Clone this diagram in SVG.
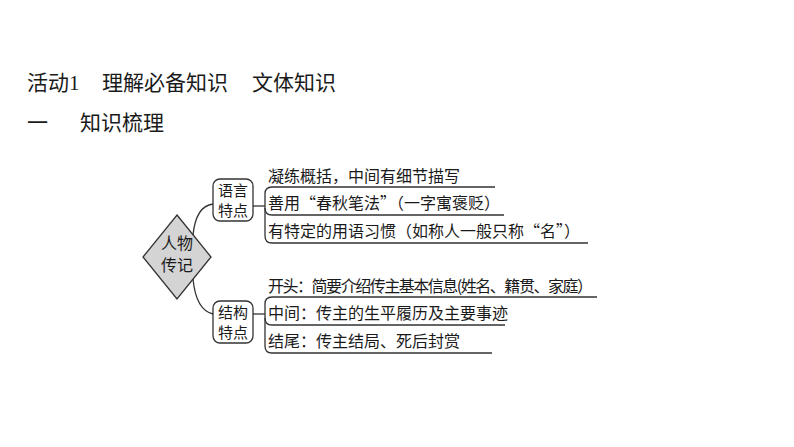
<svg xmlns="http://www.w3.org/2000/svg" width="794" height="447" viewBox="0 0 794 447">
<style>
text{font-family:"Noto Sans CJK SC","Liberation Serif",sans-serif;fill:#1a1a1a}
.h{font-size:21px;font-family:"Liberation Serif","Noto Sans CJK SC",serif}
.r{font-size:16px}
.b{font-size:15px;text-anchor:middle}
.d{font-size:16px;text-anchor:middle}
.ln{fill:none;stroke:#333;stroke-width:1.3}
.box{fill:#fff;stroke:#333;stroke-width:1.3}
.dia{fill:#d4d4d4;stroke:#333;stroke-width:1.3}
</style>
<rect width="794" height="447" fill="#fff"/>
<g id="header">
<text class="h" x="27" y="90">活动1</text>
<text class="h" x="102" y="90">理解必备知识</text>
<text class="h" x="252" y="90">文体知识</text>
<text class="h" x="27" y="130">一</text>
<text class="h" x="80" y="130">知识梳理</text>
</g>
<g id="connectors">
<path class="ln" d="M193 235 Q196 206 213 204"/>
<path class="ln" d="M193 279 Q196 310 213 314"/>
<path class="ln" d="M253 206 H265"/>
<path class="ln" d="M495 187 H272 Q265 187 265 194 V236 Q265 243 272 243 H588"/>
<path class="ln" d="M265 208 Q265 215 272 215 H504"/>
<path class="ln" d="M253 314 H265"/>
<path class="ln" d="M597 297 H272 Q265 297 265 304 V346 Q265 353 272 353 H492"/>
<path class="ln" d="M265 318 Q265 325 272 325 H505"/>
</g>
<g id="root">
<polygon class="dia" points="177,215 211,257 177,299 143,257"/>
<text class="d" x="177" y="249">人物</text>
<text class="d" x="177" y="271">传记</text>
</g>
<g id="lang">
<rect class="box" x="213" y="179" width="40" height="42" rx="7"/>
<text class="b" x="233" y="196">语言</text>
<text class="b" x="233" y="216">特点</text>
</g>
<g id="struct">
<rect class="box" x="213" y="301" width="40" height="42" rx="7"/>
<text class="b" x="233" y="318">结构</text>
<text class="b" x="233" y="338">特点</text>
</g>
<g id="lang-items">
<text class="r" x="268" y="182">凝练概括，中间有细节描写</text>
<text class="r" x="268" y="209">善用“春秋笔法”（一字寓褒贬）</text>
<text class="r" x="268" y="237">有特定的用语习惯（如称人一般只称“名”）</text>
</g>
<g id="struct-items">
<text class="r" x="268" y="292" textLength="325">开头：简要介绍传主基本信息(姓名、籍贯、家庭）</text>
<text class="r" x="268" y="319">中间：传主的生平履历及主要事迹</text>
<text class="r" x="268" y="347">结尾：传主结局、死后封赏</text>
</g>
</svg>
